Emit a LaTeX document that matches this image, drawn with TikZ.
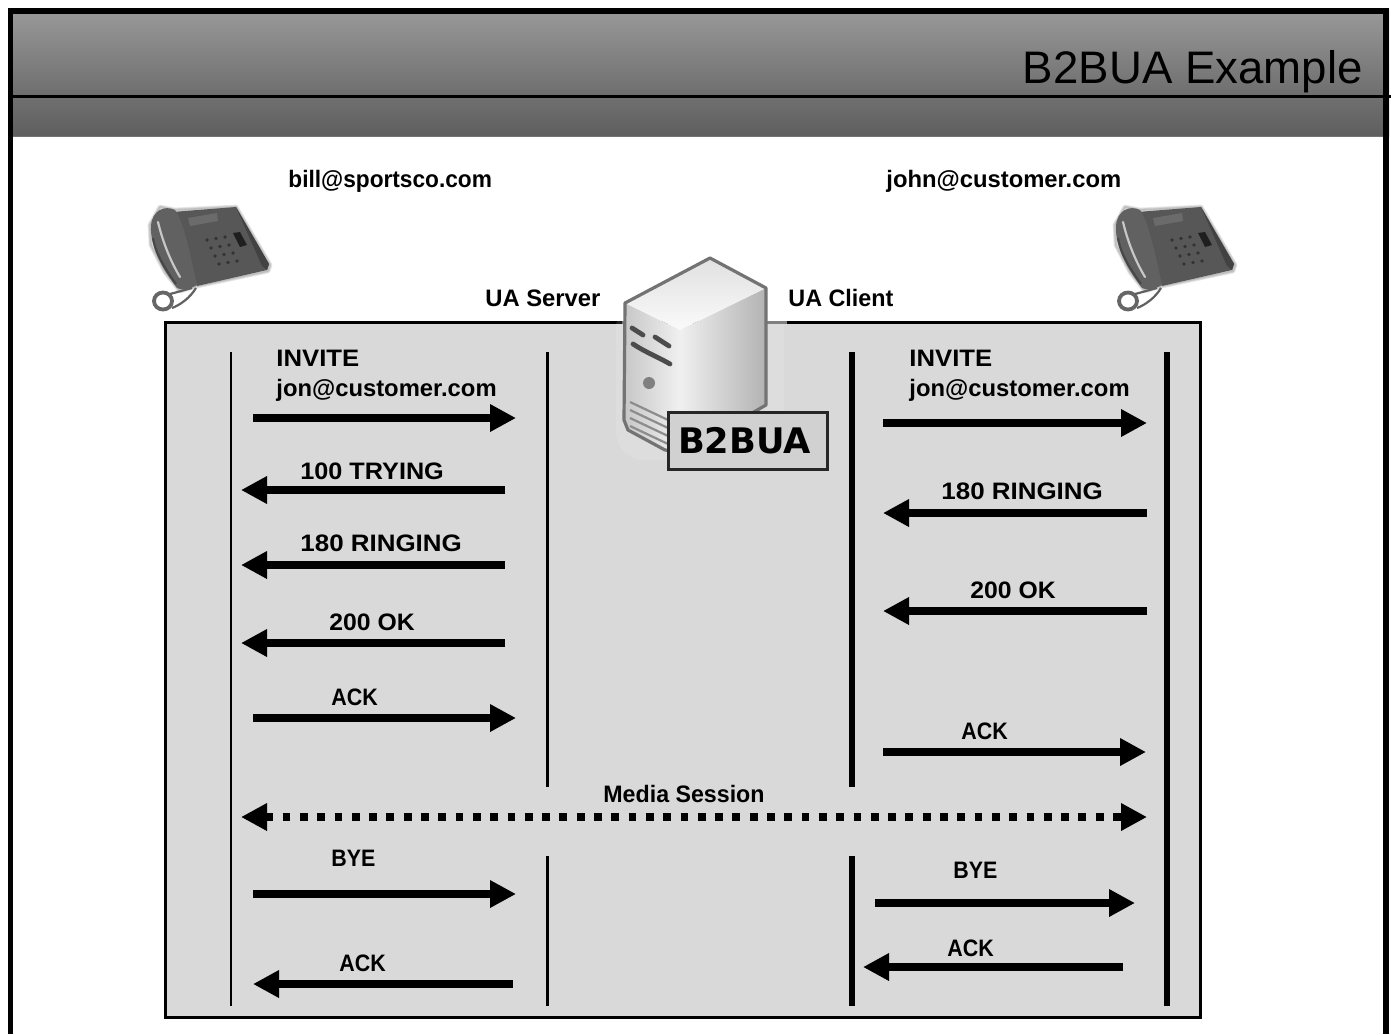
\documentclass[tikz,border=0pt]{standalone}
\usepackage{fontspec}
\usepackage{graphicx}
\setmainfont{Liberation Sans}
\newfontfamily\boxfont{DejaVu Sans}
\usetikzlibrary{arrows.meta}
\newcommand{\hsq}[2]{\scalebox{#1}[1]{#2}}
\tikzset{
  x=0.5pt,y=-0.5pt,
  lbl/.style={anchor=base west,inner sep=0pt,font=\bfseries\fontsize{11.9}{14}\selectfont,text=black},
  msgline/.style={line width=4pt,draw=black,-{Triangle[length=13pt,width=13pt]}},
  duplex/.style={line width=4pt,draw=black,dash pattern=on 3.9pt off 4.75pt,
    {Triangle[length=13pt,width=13pt]}-{Triangle[length=13pt,width=13pt]}},
  thinlife/.style={line width=1pt,draw=black},
  midlife/.style={line width=1.5pt,draw=black},
  heavylife/.style={line width=3pt,draw=black},
  phone/.pic={
    % soft halo, built from stacked translucent strokes
    \foreach \w in {2.4,1.6,0.8}{
      \path[draw=black,draw opacity=.09,line width=\w pt,line join=round]
      (175,210)--(236,207)--(270,265)--(268,271)--(197,286)--(180,291)--(165,272)--(151,245)--(150,225)--(160,207)--cycle;}
    \fill[black!66,line join=round] (172,212)--(236,207)--(269,264)--(267,270)--(197,286)--(185,245)--cycle;
    \fill[black!74] (236,207)--(269,264)--(267,270)--(262,266)--cycle;
    \fill[black!62] (151,226) .. controls (152,210) and (165,205) .. (175,210)
       .. controls (184,222) and (192,262) .. (197,285)
       .. controls (190,289) and (182,291) .. (177,288)
       .. controls (165,272) and (150,250) .. (151,226)--cycle;
    \draw[black!22,line width=1.1pt,line cap=round] (158,222) .. controls (163,243) and (171,262) .. (180,277);
    \draw[black!72,line width=1pt] (153,238) .. controls (156,255) and (166,270) .. (176,284);
    \fill[black!58] (188,218)--(217,213)--(218,221)--(190,226)--cycle;
    \fill[black!88] (233,233)--(240,232)--(247,245)--(240,247)--cycle;
    \foreach \r in {0,1,2,3}{\foreach \c in {0,1,2}{
      \fill[black!80] ({207+\c*9+\r*4},{240+\r*8-\c*1.5}) circle[radius=1.8];}}
    \draw[black!60,line width=1.9pt] (163,301) ellipse[x radius=9,y radius=8.5];
    \draw[black!62,line width=1.1pt] (170,294) .. controls (178,292) and (184,290) .. (192,288);
    \draw[black!62,line width=1.1pt] (172,308) .. controls (180,305) and (190,298) .. (196,288);
  }
}
\newcommand{\msgarrow}[5]{%
  \coordinate (#1s) at (#2,#3);\coordinate (#1e) at (#4,#3);
  \draw[#5] (#1s) -- (#1e);}
\newcommand{\lifeline}[5]{%
  \coordinate (#1t) at (#2,#3);\coordinate (#1b) at (#2,#4);
  \draw[#5] (#1t) -- (#1b);}
\begin{document}
\begin{tikzpicture}
\useasboundingbox (0,0) rectangle (1391,1034);
\fill[white] (0,0) rectangle (1391,1034);
% header
\shade[top color=black!40,bottom color=black!57] (8,9) rectangle (1389,96);
\shade[top color=black!56,bottom color=black!63] (8,96) rectangle (1389,136);
\draw[black!55,line width=.5pt] (8,136) -- (1389,136);
\draw[black,line width=2.7pt] (10.5,1034) -- (10.5,11) -- (1386,11) -- (1386,1034);
\draw[black,line width=1.5pt] (8,96) -- (1391,96);
\node[anchor=base east,inner sep=0pt,font=\fontsize{22.8}{26}\selectfont] (title) at (1363,83) {B2BUA Example};
% panel
\draw[fill=black!15,draw=black,line width=1.5pt] (165,322) rectangle (1200,1017);
% phones
\pic at (0,0) {phone};
\pic at (965,0) {phone};
% lifelines
\lifeline{la}{231}{352}{1006}{thinlife}
\lifeline{lb}{547}{352}{787}{midlife}
\lifeline{lc}{547}{856}{1006}{midlife}
\lifeline{ld}{852}{352}{787}{heavylife}
\lifeline{le}{852}{856}{1006}{heavylife}
\lifeline{lf}{1167}{352}{1006}{heavylife}
% server
\fill[white,opacity=.12,rounded corners=14pt] (616,300) rectangle (784,460);
\fill[white] (618,312) rectangle (786,321);
\draw[black!50,line width=1.5pt] (762,322) -- (787,322);
\draw[black!55,line width=1.5pt] (622,322) -- (630,322);
\shade[left color=black!6,right color=black!30] (680,330)--(766,288)--(766,405)--(700,452)--(680,450)--cycle;
\shade[left color=black!22,right color=black!6] (625,303)--(680,330)--(680,455)--(665,452)--(624,425)--cycle;
\shade[top color=black!12,bottom color=black!2] (625,303)--(710,258)--(766,288)--(680,330)--cycle;
\draw[black!55,line width=1.6pt,line join=round] (680,452)--(665,450)--(628,430)--(624,420)--(625,303)--(710,258)--(766,288)--(766,405)--(740,420);
\draw[black!70,line width=2.4pt,line cap=round] (632,328)--(643,335);
\draw[black!70,line width=2.4pt,line cap=round] (655,337)--(669,346);
\draw[black!70,line width=2.4pt,line cap=round] (633,344) .. controls (645,352) and (660,358) .. (670,364);
\fill[black!50] (649,383) circle[radius=6];
\foreach \k in {0,1,2,3}{
  \draw[black!45,line width=1.1pt] (630,{402+\k*8}) -- (668,{420+\k*8});}
\node[draw=black!85,fill=black!18,line width=1.5pt,minimum width=79.5pt,minimum height=28.5pt,inner sep=0pt,
  anchor=north west,font=\boxfont\bfseries\fontsize{17.6}{20}\selectfont] (b2bua) at (667,411) {B2BUA\kern 3.5pt};
% labels
\node[lbl] (l1) at (288,187) {\hsq{.953}{bill@sportsco.com}};
\node[lbl] (l2) at (886,187) {john@customer.com};
\node[lbl] (l3) at (485,306) {UA Server};
\node[lbl] (l4) at (788,306) {\hsq{.98}{UA Client}};
\node[lbl] (l5) at (276,366) {\hsq{1.08}{INVITE}};
\node[lbl] (l6) at (276,396) {jon@customer.com};
\node[lbl] (l7) at (909,366) {\hsq{1.08}{INVITE}};
\node[lbl] (l8) at (909,396) {jon@customer.com};
\node[lbl] (l9) at (300,479) {\hsq{1.06}{100 TRYING}};
\node[lbl] (l10) at (300,551) {\hsq{1.09}{180 RINGING}};
\node[lbl] (l11) at (329,630) {\hsq{1.04}{200 OK}};
\node[lbl] (l12) at (331,705) {\hsq{.9}{ACK}};
\node[lbl] (l13) at (941,499) {\hsq{1.09}{180 RINGING}};
\node[lbl] (l14) at (970,598) {\hsq{1.04}{200 OK}};
\node[lbl] (l15) at (961,739) {\hsq{.9}{ACK}};
\node[lbl] (l16) at (603,802) {\hsq{.975}{Media Session}};
\node[lbl] (l17) at (331,866) {\hsq{.9}{BYE}};
\node[lbl] (l18) at (339,971) {\hsq{.9}{ACK}};
\node[lbl] (l19) at (953,878) {\hsq{.9}{BYE}};
\node[lbl] (l20) at (947,956) {\hsq{.9}{ACK}};
% messages
\msgarrow{a}{253}{418}{516}{msgline}
\msgarrow{b}{505}{490}{241}{msgline}
\msgarrow{c}{505}{565}{241}{msgline}
\msgarrow{d}{505}{643}{241}{msgline}
\msgarrow{e}{253}{718}{516}{msgline}
\msgarrow{f}{883}{423}{1147}{msgline}
\msgarrow{g}{1147}{513}{883}{msgline}
\msgarrow{h}{1147}{611}{883}{msgline}
\msgarrow{i}{883}{752}{1146}{msgline}
\msgarrow{j}{241}{817}{1147}{duplex}
\msgarrow{k}{253}{894}{516}{msgline}
\msgarrow{m}{513}{984}{253}{msgline}
\msgarrow{n}{875}{903}{1135}{msgline}
\msgarrow{o}{1123}{967}{863}{msgline}
\end{tikzpicture}
\end{document}
